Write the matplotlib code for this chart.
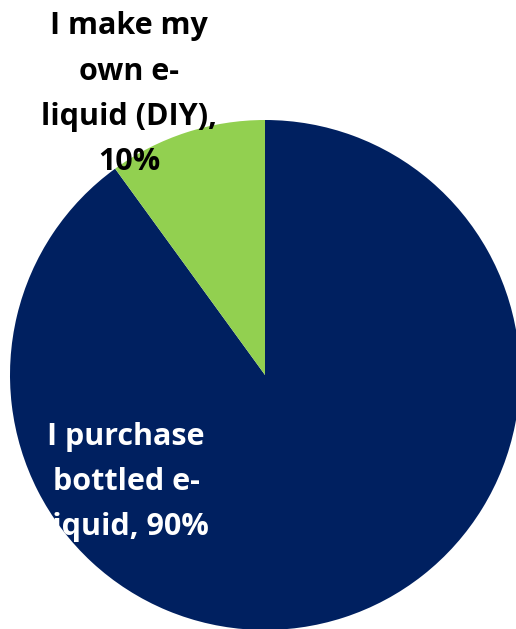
import matplotlib
matplotlib.use("Agg")
import matplotlib.pyplot as plt

categories = ["I purchase bottled e-liquid", "I make my own e-liquid (DIY)"]
values = [90, 10]
colors = ["#002060", "#92D050"]
label_lines = [["I purchase", "bottled e-", "liquid, 90%"],
               ["I make my", "own e-", "liquid (DIY),", "10%"]]

W, H = 516, 629
fig = plt.figure(figsize=(W / 100, H / 100), dpi=100)
cx, cy, r = 265, 375, 255
ax = fig.add_axes([(cx - r) / W, (H - (cy + r)) / H, 2 * r / W, 2 * r / H])
ax.pie(values, colors=colors, startangle=90, counterclock=False, radius=1,
       wedgeprops=dict(linewidth=0))
ax.set_xlim(-1, 1)
ax.set_ylim(-1, 1)
ax.set_aspect("equal")
ax.axis("off")

font = dict(family="Open Sans", weight="bold", fontsize=22)
# purchase label (white)
for i, line in enumerate(label_lines[0]):
    fig.text(126 / W, 1 - (445 + 45 * i) / H, line, color="white",
             ha="center", va="baseline", **font)
for i, line in enumerate(label_lines[1]):
    fig.text(129 / W, 1 - (34 + 45.5 * i) / H, line, color="black",
             ha="center", va="baseline", **font)

fig.savefig("out.png", dpi=100)
